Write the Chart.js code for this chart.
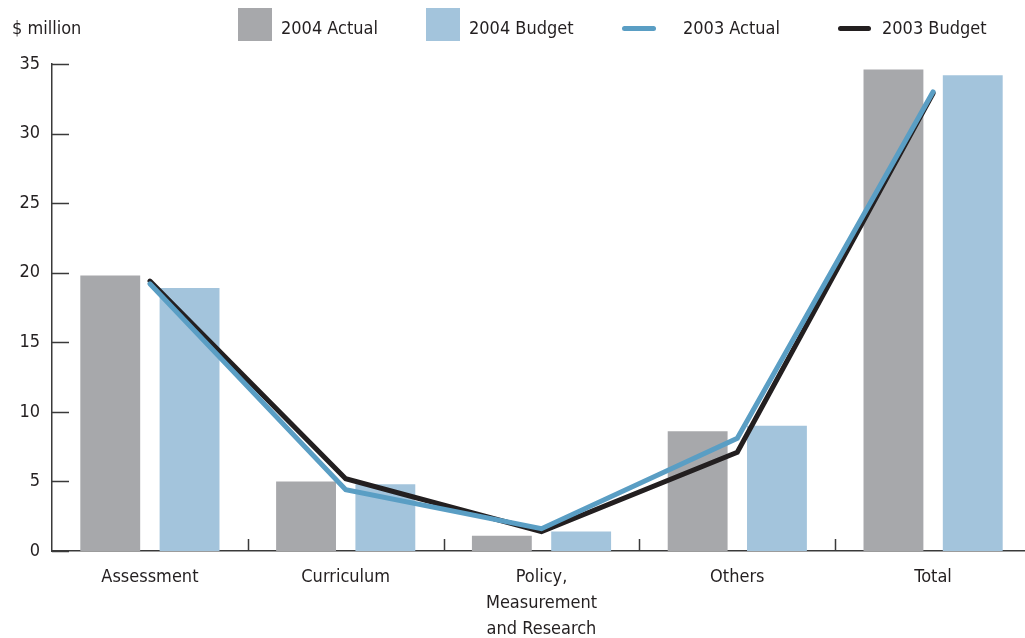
<!DOCTYPE html>
<html>
<head>
<meta charset="utf-8">
<script src="https://cdn.jsdelivr.net/npm/chart.js@4"></script>
<style>
  html, body { margin: 0; padding: 0; background: #fff; }
  #wrap { position: relative; width: 1025px; height: 638px; overflow: hidden; }
  #legend { position: absolute; left: 0; top: 0; width: 1025px; height: 60px;
    font-family: 'Liberation Sans Narrow', 'DejaVu Sans Condensed', sans-serif; font-size: 18px; color: #231f20; }
  #legend span { position: absolute; top: 16px; line-height: 24px; }
  #legend i { position: absolute; display: block; }
</style>
</head>
<body>
<div id="wrap">
  <canvas id="chart" width="1036" height="638"></canvas>
  <div id="legend">
    <span style="left:12px">$ million</span>
    <i style="left:238px; top:8px; width:34px; height:33px; background:#a7a8ab"></i>
    <span style="left:281px">2004 Actual</span>
    <i style="left:426px; top:8px; width:34px; height:33px; background:#a3c4dc"></i>
    <span style="left:469px">2004 Budget</span>
    <i style="left:622px; top:26px; width:34px; height:5px; border-radius:3px; background:#5a9ec4"></i>
    <span style="left:683px">2003 Actual</span>
    <i style="left:838px; top:26px; width:33px; height:5px; border-radius:3px; background:#231f20"></i>
    <span style="left:882px">2003 Budget</span>
  </div>
</div>
<script>
// categories and values ($ million)
const categories = ['Assessment', 'Curriculum', ['Policy,', 'Measurement', 'and Research'], 'Others', 'Total'];
const actual2004 = [19.8, 5.0, 1.1, 8.6, 34.6];
const budget2004 = [18.9, 4.8, 1.4, 9.0, 34.2];
const actual2003 = [19.2, 4.4, 1.6, 8.1, 33.0];
const budget2003 = [19.4, 5.2, 1.4, 7.1, 32.9];
const yTicks = [0, 5, 10, 15, 20, 25, 30, 35];

const fontFamily = "'Liberation Sans Narrow', 'DejaVu Sans Condensed', sans-serif";
const axisColor = '#3a3a3a';

// tick marks drawn inward from the axes
const innerTicks = {
    id: 'innerTicks',
    afterDraw(chart) {
        const ctx = chart.ctx;
        const area = chart.chartArea;
        const x = chart.scales.x;
        const y = chart.scales.y;
        ctx.save();
        ctx.strokeStyle = axisColor;
        ctx.lineWidth = 1.5;
        ctx.beginPath();
        yTicks.forEach(v => {
            const py = Math.round(y.getPixelForValue(v)) + 0.5;
            ctx.moveTo(area.left, py);
            ctx.lineTo(area.left + 17, py);
        });
        for (let i = 0; i < categories.length - 1; i++) {
            const px = Math.round((x.getPixelForValue(i) + x.getPixelForValue(i + 1)) / 2) + 0.5;
            ctx.moveTo(px, area.bottom);
            ctx.lineTo(px, area.bottom - 12);
        }
        ctx.stroke();
        ctx.restore();
    }
};

const ctx = document.getElementById('chart').getContext('2d');
new Chart(ctx, {
    type: 'bar',
    data: {
        labels: categories,
        datasets: [
            {
                type: 'line',
                label: '2003 Actual',
                data: actual2003,
                borderColor: '#5a9ec4',
                borderWidth: 5,
                borderCapStyle: 'round',
                borderJoinStyle: 'miter',
                pointRadius: 0,
                fill: false,
                order: 1
            },
            {
                type: 'line',
                label: '2003 Budget',
                data: budget2003,
                borderColor: '#231f20',
                borderWidth: 5,
                borderCapStyle: 'round',
                borderJoinStyle: 'miter',
                pointRadius: 0,
                fill: false,
                order: 2
            },
            {
                label: '2004 Actual',
                data: actual2004,
                backgroundColor: '#a7a8ab',
                categoryPercentage: 0.81,
                barPercentage: 0.755,
                order: 3
            },
            {
                label: '2004 Budget',
                data: budget2004,
                backgroundColor: '#a3c4dc',
                categoryPercentage: 0.81,
                barPercentage: 0.755,
                order: 4
            }
        ]
    },
    options: {
        responsive: false,
        animation: false,
        layout: {
            padding: { left: 0, right: 5, top: 64, bottom: 0 }
        },
        plugins: {
            legend: { display: false },
            tooltip: { enabled: false }
        },
        scales: {
            x: {
                grid: { display: false, drawTicks: false },
                border: { display: true, color: axisColor, width: 1.5 },
                ticks: {
                    color: '#231f20',
                    font: { family: fontFamily, size: 18, lineHeight: 1.42 },
                    padding: 14,
                    maxRotation: 0,
                    autoSkip: false
                },
                afterFit(scale) { scale.height = 87; }
            },
            y: {
                min: 0,
                max: 35,
                grid: { display: false, drawTicks: false },
                border: { display: true, color: axisColor, width: 1.5 },
                ticks: {
                    stepSize: 5,
                    color: '#231f20',
                    font: { family: fontFamily, size: 18 },
                    padding: 12
                },
                afterFit(scale) { scale.width = 52; }
            }
        }
    },
    plugins: [innerTicks]
});
</script>
</body>
</html>
